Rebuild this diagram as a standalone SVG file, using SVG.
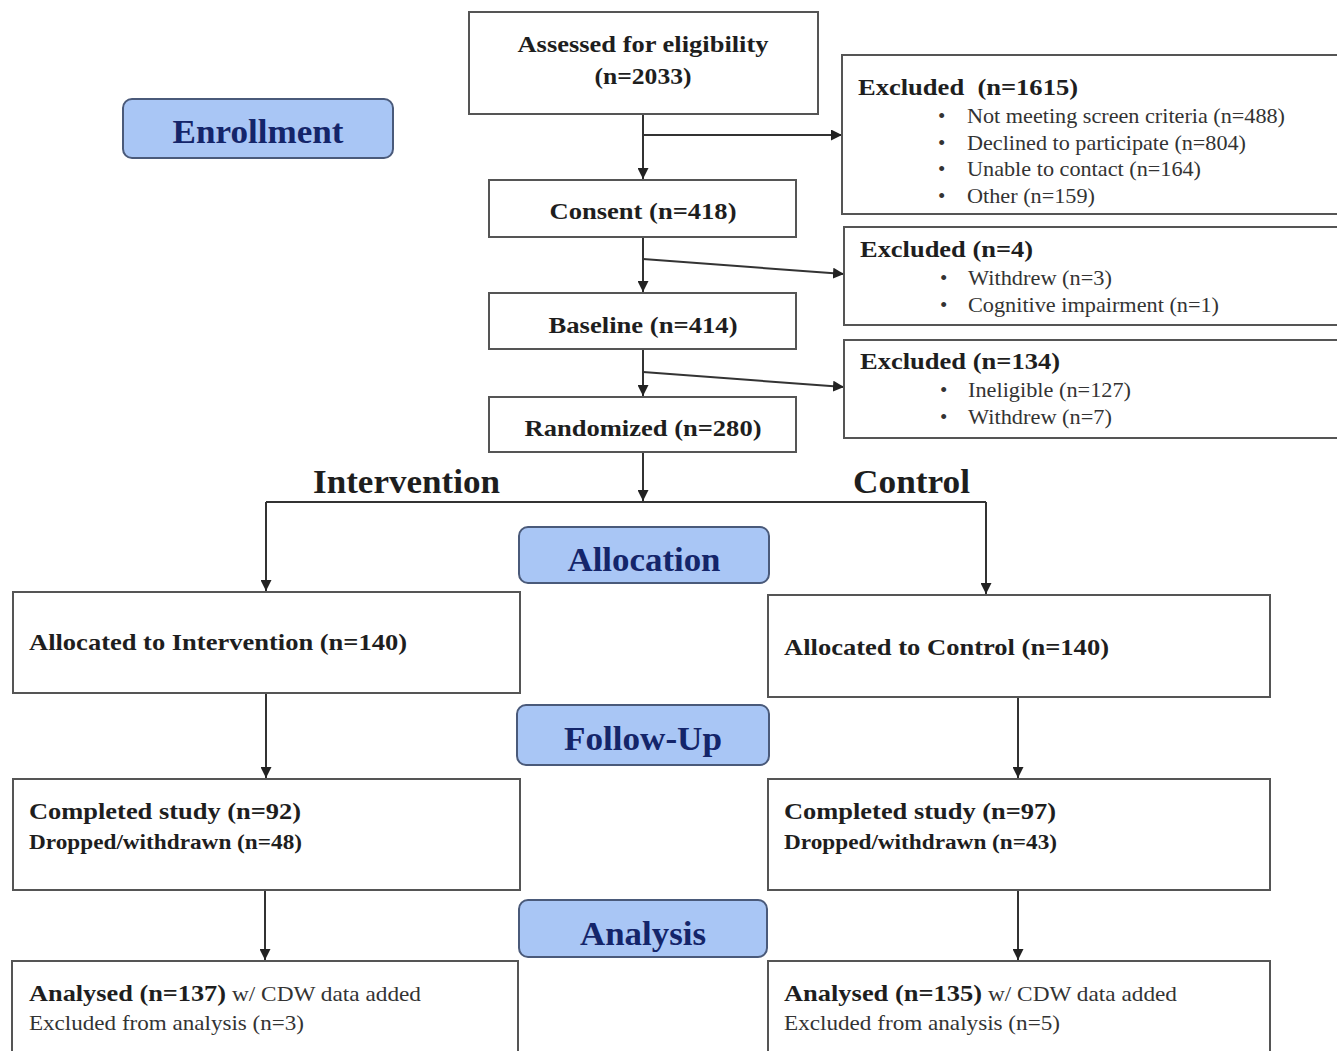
<svg xmlns="http://www.w3.org/2000/svg" width="1337" height="1051" viewBox="0 0 1337 1051">
<defs>
<marker id="ah" viewBox="0 0 10 10" refX="10" refY="5" markerWidth="11" markerHeight="11" markerUnits="userSpaceOnUse" orient="auto">
<path d="M0,0 L10,5 L0,10 z" fill="#222"/>
</marker>
<style>
.box{fill:#fff;stroke:#555;stroke-width:2}
.stage{fill:#a9c6f5;stroke:#4a5a7a;stroke-width:2}
.stxt{font-family:"Liberation Serif",serif;font-weight:bold;font-size:33px;fill:#14256a;text-anchor:middle}
.b{font-family:"Liberation Serif",serif;font-weight:bold;fill:#1e1e1e}
.n{font-family:"Liberation Serif",serif;fill:#333}
.c{text-anchor:middle}
.line{fill:none;stroke:#333;stroke-width:2}
</style>
</defs>
<rect width="1337" height="1051" fill="#fff"/>
<g id="connectors">
<line class="line" x1="643" y1="114" x2="643" y2="179" marker-end="url(#ah)"/>
<line class="line" x1="643" y1="135" x2="842" y2="135" marker-end="url(#ah)"/>
<line class="line" x1="643" y1="237" x2="643" y2="292" marker-end="url(#ah)"/>
<line class="line" x1="643" y1="259" x2="844" y2="274" marker-end="url(#ah)"/>
<line class="line" x1="643" y1="349" x2="643" y2="396" marker-end="url(#ah)"/>
<line class="line" x1="643" y1="372" x2="844" y2="387" marker-end="url(#ah)"/>
<line class="line" x1="643" y1="452" x2="643" y2="501" marker-end="url(#ah)"/>
<polyline class="line" points="266,502 986,502"/>
<line class="line" x1="266" y1="502" x2="266" y2="591" marker-end="url(#ah)"/>
<line class="line" x1="986" y1="502" x2="986" y2="594" marker-end="url(#ah)"/>
<line class="line" x1="266" y1="693" x2="266" y2="778" marker-end="url(#ah)"/>
<line class="line" x1="1018" y1="697" x2="1018" y2="778" marker-end="url(#ah)"/>
<line class="line" x1="265" y1="890" x2="265" y2="960" marker-end="url(#ah)"/>
<line class="line" x1="1018" y1="890" x2="1018" y2="960" marker-end="url(#ah)"/>
</g>
<g id="enrollment"><rect class="stage" x="123" y="99" width="270" height="59" rx="9"/><text class="stxt" x="258" y="143" textLength="171" lengthAdjust="spacingAndGlyphs">Enrollment</text></g>
<g id="allocation"><rect class="stage" x="519" y="527" width="250" height="56" rx="9"/><text class="stxt" x="644" y="571" textLength="153" lengthAdjust="spacingAndGlyphs">Allocation</text></g>
<g id="followup"><rect class="stage" x="517" y="705" width="252" height="60" rx="9"/><text class="stxt" x="643" y="750" textLength="158" lengthAdjust="spacingAndGlyphs">Follow-Up</text></g>
<g id="analysis"><rect class="stage" x="519" y="900" width="248" height="57" rx="9"/><text class="stxt" x="643" y="945" textLength="126" lengthAdjust="spacingAndGlyphs">Analysis</text></g>
<g id="assessed"><rect class="box" x="469" y="12" width="349" height="102"/>
<text class="b c" x="643" y="52" font-size="24" textLength="251" lengthAdjust="spacingAndGlyphs">Assessed for eligibility</text>
<text class="b c" x="643" y="84" font-size="24" textLength="97" lengthAdjust="spacingAndGlyphs">(n=2033)</text></g>
<g id="excluded1"><rect class="box" x="842" y="55" width="500" height="159"/>
<text class="b" x="858" y="95" font-size="24" xml:space="preserve" textLength="220" lengthAdjust="spacingAndGlyphs">Excluded  (n=1615)</text>
<g class="n" font-size="21">
<text x="938" y="123">•</text><text x="967" y="123" textLength="318" lengthAdjust="spacingAndGlyphs">Not meeting screen criteria (n=488)</text>
<text x="938" y="150">•</text><text x="967" y="150" textLength="279" lengthAdjust="spacingAndGlyphs">Declined to participate (n=804)</text>
<text x="938" y="176">•</text><text x="967" y="176" textLength="234" lengthAdjust="spacingAndGlyphs">Unable to contact (n=164)</text>
<text x="938" y="203">•</text><text x="967" y="203" textLength="128" lengthAdjust="spacingAndGlyphs">Other (n=159)</text>
</g></g>
<g id="consent"><rect class="box" x="489" y="180" width="307" height="57"/>
<text class="b c" x="643" y="219" font-size="24" textLength="187" lengthAdjust="spacingAndGlyphs">Consent (n=418)</text></g>
<g id="excluded2"><rect class="box" x="844" y="227" width="500" height="98"/>
<text class="b" x="860" y="257" font-size="24" textLength="173" lengthAdjust="spacingAndGlyphs">Excluded (n=4)</text>
<g class="n" font-size="21">
<text x="940" y="285">•</text><text x="968" y="285" textLength="144" lengthAdjust="spacingAndGlyphs">Withdrew (n=3)</text>
<text x="940" y="312">•</text><text x="968" y="312" textLength="251" lengthAdjust="spacingAndGlyphs">Cognitive impairment (n=1)</text>
</g></g>
<g id="baseline"><rect class="box" x="489" y="293" width="307" height="56"/>
<text class="b c" x="643" y="333" font-size="24" textLength="189" lengthAdjust="spacingAndGlyphs">Baseline (n=414)</text></g>
<g id="excluded3"><rect class="box" x="844" y="340" width="500" height="98"/>
<text class="b" x="860" y="369" font-size="24" textLength="200" lengthAdjust="spacingAndGlyphs">Excluded (n=134)</text>
<g class="n" font-size="21">
<text x="940" y="397">•</text><text x="968" y="397" textLength="163" lengthAdjust="spacingAndGlyphs">Ineligible (n=127)</text>
<text x="940" y="424">•</text><text x="968" y="424" textLength="144" lengthAdjust="spacingAndGlyphs">Withdrew (n=7)</text>
</g></g>
<g id="randomized"><rect class="box" x="489" y="397" width="307" height="55"/>
<text class="b c" x="643" y="436" font-size="24" textLength="237" lengthAdjust="spacingAndGlyphs">Randomized (n=280)</text></g>
<g id="label-intervention"><text class="b" x="313" y="493" font-size="33" textLength="187" lengthAdjust="spacingAndGlyphs">Intervention</text></g>
<g id="label-control"><text class="b" x="853" y="493" font-size="33" textLength="117" lengthAdjust="spacingAndGlyphs">Control</text></g>
<g id="alloc-int"><rect class="box" x="13" y="592" width="507" height="101"/>
<text class="b" x="29" y="650" font-size="24" textLength="378" lengthAdjust="spacingAndGlyphs">Allocated to Intervention (n=140)</text></g>
<g id="alloc-ctl"><rect class="box" x="768" y="595" width="502" height="102"/>
<text class="b" x="784" y="655" font-size="24" textLength="325" lengthAdjust="spacingAndGlyphs">Allocated to Control (n=140)</text></g>
<g id="comp-int"><rect class="box" x="13" y="779" width="507" height="111"/>
<text class="b" x="29" y="819" font-size="24" textLength="272" lengthAdjust="spacingAndGlyphs">Completed study (n=92)</text>
<text class="b" x="29" y="849" font-size="20" textLength="273" lengthAdjust="spacingAndGlyphs">Dropped/withdrawn (n=48)</text></g>
<g id="comp-ctl"><rect class="box" x="768" y="779" width="502" height="111"/>
<text class="b" x="784" y="819" font-size="24" textLength="272" lengthAdjust="spacingAndGlyphs">Completed study (n=97)</text>
<text class="b" x="784" y="849" font-size="20" textLength="273" lengthAdjust="spacingAndGlyphs">Dropped/withdrawn (n=43)</text></g>
<g id="anal-int"><rect class="box" x="12" y="961" width="506" height="100"/>
<text class="b" x="29" y="1001" font-size="24" textLength="197" lengthAdjust="spacingAndGlyphs">Analysed (n=137)</text>
<text class="n" x="232" y="1001" font-size="21" textLength="189" lengthAdjust="spacingAndGlyphs">w/ CDW data added</text>
<text class="n" x="29" y="1030" font-size="21" textLength="275" lengthAdjust="spacingAndGlyphs">Excluded from analysis (n=3)</text></g>
<g id="anal-ctl"><rect class="box" x="768" y="961" width="502" height="100"/>
<text class="b" x="784" y="1001" font-size="24" textLength="198" lengthAdjust="spacingAndGlyphs">Analysed (n=135)</text>
<text class="n" x="988" y="1001" font-size="21" textLength="189" lengthAdjust="spacingAndGlyphs">w/ CDW data added</text>
<text class="n" x="784" y="1030" font-size="21" textLength="276" lengthAdjust="spacingAndGlyphs">Excluded from analysis (n=5)</text></g>
</svg>
